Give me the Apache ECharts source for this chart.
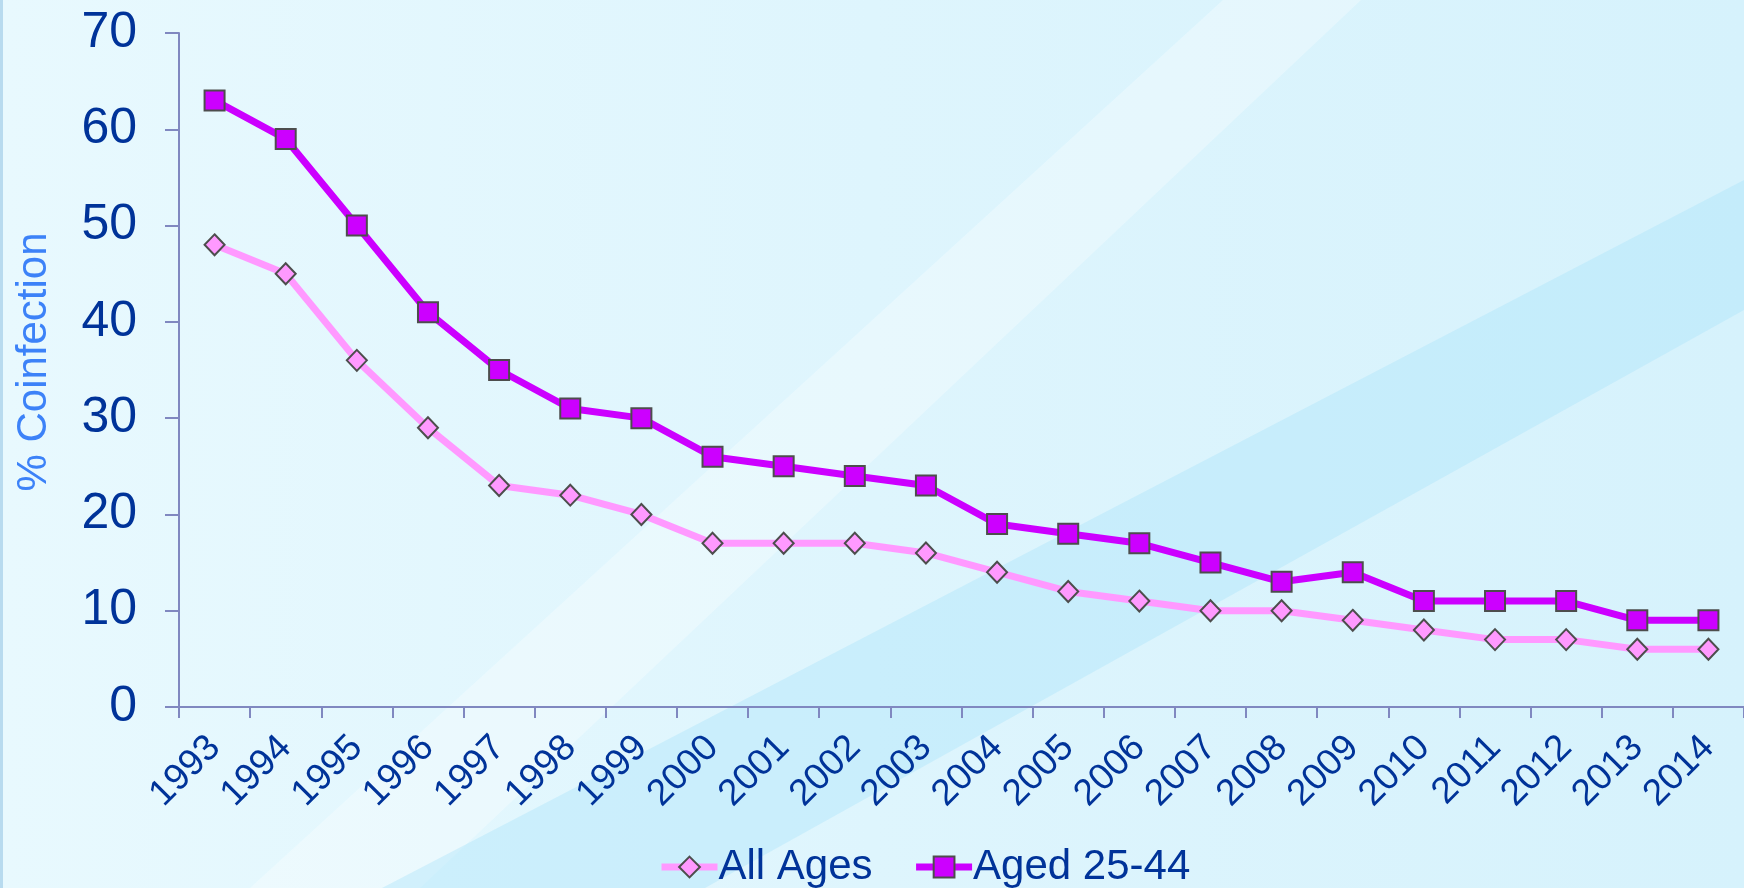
<!DOCTYPE html>
<html>
<head>
<meta charset="utf-8">
<script src="https://cdn.jsdelivr.net/npm/echarts@6/dist/echarts.min.js"></script>
<style>
html, body { margin: 0; padding: 0; }
#main { width: 1744px; height: 888px; }
</style>
</head>
<body>
<div id="main"></div>
<script>
// data
var years = ['1993', '1994', '1995', '1996', '1997', '1998', '1999', '2000', '2001', '2002', '2003',
	'2004', '2005', '2006', '2007', '2008', '2009', '2010', '2011', '2012', '2013', '2014'];
var allAges = [48, 45, 36, 29, 23, 22, 20, 17, 17, 17, 16, 14, 12, 11, 10, 10, 9, 8, 7, 7, 6, 6];
var aged2544 = [63, 59, 50, 41, 35, 31, 30, 26, 25, 24, 23, 19, 18, 17, 15, 13, 14, 11, 11, 11, 9, 9];
var seriesNames = ['All Ages', 'Aged 25-44'];

var font = '"Liberation Sans", Arial, sans-serif';
var textBlue = '#003399';
var axisColor = '#8088c0';

var myChart = echarts.init(document.getElementById('main'));

var option = {
	backgroundColor: new echarts.graphic.LinearGradient(0, 0, 1, 0, [
		{ offset: 0, color: '#e8f9fe' },
		{ offset: 0.5, color: '#def5fd' },
		{ offset: 1, color: '#d6f2fc' }
	]),
	// decorative background streaks
	graphic: [
		{
			type: 'polygon', z: 0, silent: true,
			shape: { points: [[1223, 0], [1361, 0], [420, 888], [250, 888]] },
			style: { fill: 'rgba(255,255,255,0.3)' }
		},
		{
			type: 'polygon', z: 0, silent: true,
			shape: { points: [[1744, 180], [1744, 310], [705, 888], [382, 888]] },
			style: { fill: 'rgba(170,228,250,0.4)' }
		},
		{
			type: 'rect', z: 0, silent: true,
			shape: { x: 0, y: 0, width: 3, height: 888 },
			style: { fill: '#b8dbef' }
		}
	],
	legend: {
		left: 653,
		top: 841,
		itemWidth: 56,
		itemHeight: 26,
		itemGap: 40,
		lineStyle: { width: 7 },
		textStyle: { fontFamily: font, fontSize: 42, color: textBlue, padding: [0, 0, 0, -4] },
		data: seriesNames
	},
	grid: {
		left: 179,
		right: -5,
		top: 33,
		bottom: 181,
		containLabel: false
	},
	xAxis: {
		type: 'category',
		data: years,
		boundaryGap: true,
		axisLine: { lineStyle: { color: axisColor, width: 2 } },
		axisTick: { show: true, length: 11, lineStyle: { color: axisColor, width: 2 } },
		axisLabel: {
			rotate: 45,
			interval: 0,
			margin: 35,
			fontFamily: font,
			fontSize: 37,
			color: textBlue
		},
		splitLine: { show: false }
	},
	yAxis: {
		type: 'value',
		min: 0,
		max: 70,
		interval: 10,
		name: '% Coinfection',
		nameLocation: 'middle',
		nameGap: 124,
		nameTextStyle: { fontFamily: font, fontSize: 42, color: '#3c82f8', padding: [0, 0, 0, 16] },
		axisLine: { show: true, lineStyle: { color: axisColor, width: 2 } },
		axisTick: { show: true, length: 14, lineStyle: { color: axisColor, width: 2 } },
		axisLabel: {
			margin: 42,
			fontFamily: font,
			fontSize: 50,
			color: textBlue
		},
		splitLine: { show: false }
	},
	series: [
		{
			name: seriesNames[0],
			type: 'line',
			data: allAges,
			symbol: 'diamond',
			symbolSize: [20, 21],
			lineStyle: { color: '#ff99ff', width: 7 },
			itemStyle: { color: '#ff99ff', borderColor: '#4d4d4d', borderWidth: 2 },
			z: 3
		},
		{
			name: seriesNames[1],
			type: 'line',
			data: aged2544,
			symbol: 'rect',
			symbolSize: 20,
			lineStyle: { color: '#cc00ff', width: 7 },
			itemStyle: { color: '#cc00ff', borderColor: '#4d4d4d', borderWidth: 2 },
			z: 4
		}
	]
};

myChart.setOption(option);
</script>
</body>
</html>
